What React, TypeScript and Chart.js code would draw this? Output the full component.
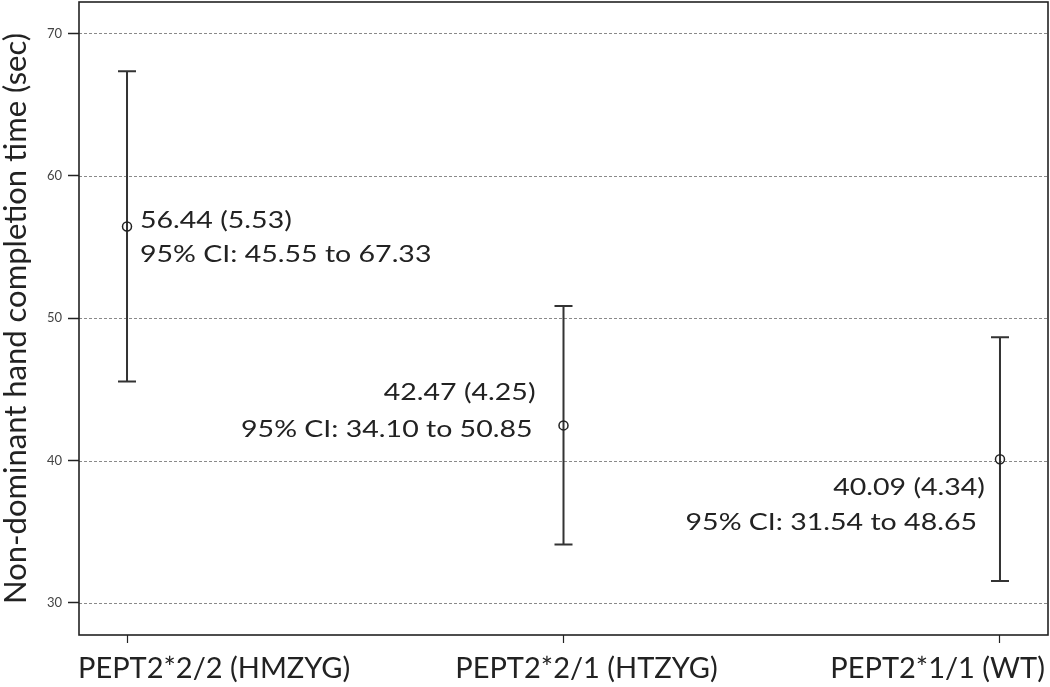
import React, { useEffect, useRef } from "react";
import { Chart, registerables } from "chart.js";

Chart.register(...registerables);

// ---- data ----
const categories = ["PEPT2*2/2 (HMZYG)", "PEPT2*2/1 (HTZYG)", "PEPT2*1/1 (WT)"];
const means = [56.44, 42.47, 40.09];
const stdErrors = [5.53, 4.25, 4.34];
const ciLower = [45.55, 34.1, 31.54];
const ciUpper = [67.33, 50.85, 48.65];
const yTicks = [30, 40, 50, 60, 70];
const yTitle = "Non-dominant hand completion time (sec)";

// ---- style / layout ----
const FONT = "Lato, 'Open Sans', sans-serif";
const INK = "#222";
const ANN_SIZE = 23;
const ANN_SX = 1.24;
const XLAB_SIZE = 29;
const XLAB_SX = 1.0;
const annLayout = [
  { align: "left", dx: [13, 13], dy: [2, 36] },
  { align: "right", dx: [-28, -31], dy: [-25, 12] },
  { align: "right", dx: [-15, -23], dy: [36, 71] },
];
const xLabLayout = [
  { align: "left", dx: -49 },
  { align: "center", dx: 23 },
  { align: "right", dx: 45 },
];

function drawText(ctx: CanvasRenderingContext2D, text: string, x: number, y: number, align: string, size: number, sx: number) {
  ctx.save();
  ctx.font = `${size}px ${FONT}`;
  ctx.fillStyle = INK;
  ctx.textAlign = align as CanvasTextAlign;
  ctx.textBaseline = "alphabetic";
  ctx.translate(x, y);
  ctx.scale(sx, 1);
  ctx.fillText(text, 0, 0);
  ctx.restore();
}

const decorPlugin = {
  id: "decor",
  beforeDatasetsDraw(chart: any) {
    const { ctx, chartArea } = chart;
    const xs = chart.scales.x;
    const ys = chart.scales.y;
    ctx.save();
    // dotted grid lines
    ctx.strokeStyle = "#8a8a8a";
    ctx.lineWidth = 1.2;
    ctx.setLineDash([3, 2]);
    yTicks.forEach((v) => {
      const y = Math.round(ys.getPixelForValue(v)) + 0.5;
      ctx.beginPath();
      ctx.moveTo(chartArea.left, y);
      ctx.lineTo(chartArea.right, y);
      ctx.stroke();
    });
    ctx.setLineDash([]);
    // error bars
    ctx.strokeStyle = "#333";
    ctx.lineWidth = 2;
    means.forEach((_, i) => {
      const x = xs.getPixelForValue(i);
      const yl = ys.getPixelForValue(ciLower[i]);
      const yu = ys.getPixelForValue(ciUpper[i]);
      ctx.beginPath();
      ctx.moveTo(x, yu);
      ctx.lineTo(x, yl);
      ctx.moveTo(x - 9, yu);
      ctx.lineTo(x + 9, yu);
      ctx.moveTo(x - 9, yl);
      ctx.lineTo(x + 9, yl);
      ctx.stroke();
    });
    ctx.restore();
  },
  afterDraw(chart: any) {
    const { ctx, chartArea } = chart;
    const xs = chart.scales.x;
    const ys = chart.scales.y;
    ctx.save();
    ctx.strokeStyle = INK;
    ctx.lineWidth = 1.6;
    ctx.strokeRect(chartArea.left, chartArea.top, chartArea.right - chartArea.left, chartArea.bottom - chartArea.top);
    ctx.restore();
    // annotations
    means.forEach((m, i) => {
      const px = xs.getPixelForValue(i);
      const py = ys.getPixelForValue(m);
      const L = annLayout[i];
      const line1 = `${m.toFixed(2)} (${stdErrors[i].toFixed(2)})`;
      const line2 = `95% CI: ${ciLower[i].toFixed(2)} to ${ciUpper[i].toFixed(2)}`;
      drawText(ctx, line1, px + L.dx[0], py + L.dy[0], L.align, ANN_SIZE, ANN_SX);
      drawText(ctx, line2, px + L.dx[1], py + L.dy[1], L.align, ANN_SIZE, ANN_SX);
    });
    // x category labels
    categories.forEach((c, i) => {
      const px = xs.getPixelForValue(i);
      drawText(ctx, c, px + xLabLayout[i].dx, chartArea.bottom + 43, xLabLayout[i].align, XLAB_SIZE, XLAB_SX);
    });
  },
};

export default function App() {
  const ref = useRef<HTMLCanvasElement>(null);
  useEffect(() => {
    document.body.style.margin = "0";
    const chart = new Chart(ref.current!, {
      type: "scatter",
      data: {
        datasets: [
          {
            data: means.map((m, i) => ({ x: i, y: m })),
            pointRadius: 4.5,
            pointBorderWidth: 1.5,
            borderColor: INK,
            backgroundColor: "rgba(0,0,0,0)",
          },
        ],
      },
      options: {
        responsive: false,
        animation: false,
        events: [],
        layout: { autoPadding: false, padding: { top: 2, right: 2, left: 0, bottom: 0 } },
        plugins: { legend: { display: false }, tooltip: { enabled: false } },
        scales: {
          x: {
            type: "linear",
            min: -0.11,
            max: 2.11,
            afterBuildTicks: (s: any) => {
              s.ticks = categories.map((_, i) => ({ value: i }));
            },
            afterFit: (s: any) => {
              s.height = 52;
              s.paddingLeft = 0;
              s.paddingRight = 0;
            },
            ticks: { display: false },
            grid: { drawOnChartArea: false, drawTicks: true, tickLength: 8, tickColor: INK, tickWidth: 1.2 },
            border: { display: false },
          },
          y: {
            min: 27.75,
            max: 72.2,
            afterBuildTicks: (s: any) => {
              s.ticks = yTicks.map((v) => ({ value: v }));
            },
            afterFit: (s: any) => {
              s.width = 79;
              s.paddingTop = 0;
              s.paddingBottom = 0;
            },
            ticks: { font: { family: FONT, size: 13 }, color: "#444", padding: 6 },
            grid: { drawOnChartArea: false, drawTicks: true, tickLength: 11, tickColor: INK, tickWidth: 1.5 },
            border: { display: false },
            title: {
              display: true,
              text: yTitle,
              font: { family: FONT, size: 31, lineHeight: 1.0 },
              color: INK,
              padding: { top: 0, bottom: 0 },
            },
          },
        },
      },
      plugins: [decorPlugin],
    } as any);
    return () => chart.destroy();
  }, []);
  return (
    <div style={{ width: 1050, height: 687 }}>
      <canvas ref={ref} width={1050} height={687} style={{ display: "block" }} />
    </div>
  );
}
